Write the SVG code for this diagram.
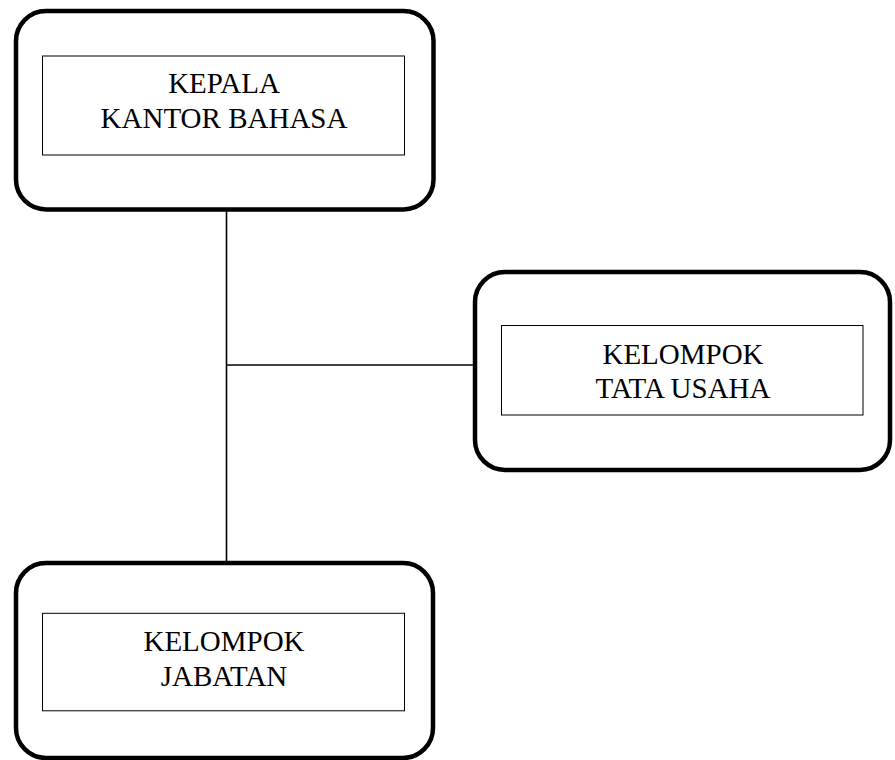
<svg xmlns="http://www.w3.org/2000/svg" width="895" height="760" viewBox="0 0 895 760">
<style>
.outer{fill:#fff;stroke:#000;stroke-width:4.5}
.inner{fill:#fff;stroke:#000;stroke-width:1}
.lbl{font-family:"Liberation Serif","Times New Roman",serif;font-size:29px;fill:#000;text-anchor:middle}
.conn{stroke:#000;stroke-width:1.6;fill:none}
</style>
<rect width="895" height="760" fill="#fff"/>
<g id="connectors">
<line class="conn" x1="226.5" y1="209" x2="226.5" y2="563"/>
<line class="conn" x1="226.5" y1="365" x2="475" y2="365"/>
</g>
<g id="kepala">
<rect class="outer" x="16" y="11" width="417.5" height="198.5" rx="30"/>
<rect class="inner" x="42.5" y="56" width="362" height="99"/>
<text class="lbl" x="224" y="92.7">KEPALA</text>
<text class="lbl" x="224" y="128">KANTOR BAHASA</text>
</g>
<g id="tata-usaha">
<rect class="outer" x="475" y="272" width="415" height="198" rx="30"/>
<rect class="inner" x="501.5" y="325.5" width="361.5" height="89.5"/>
<text class="lbl" x="683" y="364">KELOMPOK</text>
<text class="lbl" x="683" y="398">TATA USAHA</text>
</g>
<g id="jabatan">
<rect class="outer" x="16" y="563" width="417" height="195" rx="30"/>
<rect class="inner" x="42.5" y="613.3" width="362" height="97.5"/>
<text class="lbl" x="224" y="650.7">KELOMPOK</text>
<text class="lbl" x="224" y="685.7">JABATAN</text>
</g>
</svg>
